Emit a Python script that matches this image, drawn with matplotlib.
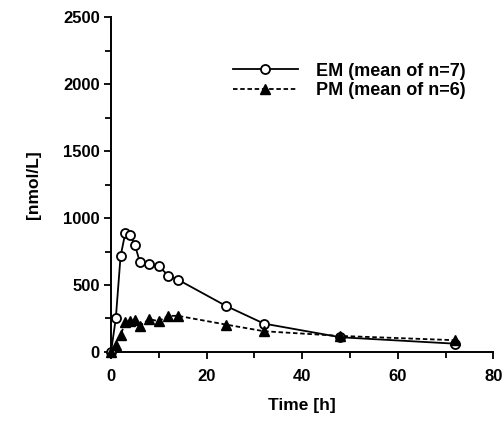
import matplotlib
matplotlib.use('Agg')
import matplotlib.pyplot as plt
import numpy as np

# Dados
t_em = [0, 1, 2, 3, 4, 5, 6, 8, 10, 12, 14, 24, 32, 48, 72]
em = [0, 250, 715, 890, 873, 800, 675, 655, 640, 570, 540, 345, 212, 110, 62]

t_pm = [0, 1, 2, 3, 4, 5, 6, 8, 10, 12, 14, 24, 32, 48, 72]
pm = [0, 55, 125, 225, 235, 240, 195, 245, 230, 270, 270, 205, 155, 120, 88]

em_label = 'EM (mean of n=7)'
pm_label = 'PM (mean of n=6)'

plt.rcParams['font.family'] = ['Liberation Sans', 'DejaVu Sans']
plt.rcParams['font.weight'] = 'bold'

fig = plt.figure(figsize=(5.03, 4.21), dpi=100)
ax = fig.add_axes([0.2207, 0.1639, 0.76, 0.7957])

ax.plot(t_em, em, '-', color='black', lw=1.3, marker='o', ms=6.5,
        mfc='white', mec='black', mew=1.3, label=em_label, clip_on=False, zorder=3)
ax.plot(t_pm, pm, '--', color='black', lw=1.3, marker='^', ms=6.5,
        mfc='black', mec='black', dashes=(2.5, 1.5), label=pm_label, clip_on=False, zorder=3)

ax.set_xlim(0, 80)
ax.set_ylim(0, 2500)
ax.set_xticks(np.arange(0, 81, 20))
ax.set_xticks(np.arange(0, 81, 10), minor=True)
ax.set_yticks(np.arange(0, 2501, 500))
ax.set_yticks(np.arange(0, 2501, 250), minor=True)

for s in ['top', 'right']:
    ax.spines[s].set_visible(False)
for s in ['left', 'bottom']:
    ax.spines[s].set_linewidth(1.4)

ax.tick_params(which='both', direction='out', width=1.3, labelsize=12)
ax.tick_params(which='major', length=5)
ax.tick_params(which='minor', length=4)
ax.tick_params(axis='y', pad=3)
ax.tick_params(axis='x', pad=7)

ax.set_xlabel('Time [h]', fontsize=12.5, fontweight='bold', labelpad=10)
ax.set_ylabel('[nmol/L]', fontsize=12.5, fontweight='bold', labelpad=16)

leg = ax.legend(loc='upper left', bbox_to_anchor=(0.30, 0.885), frameon=False,
                fontsize=13, handlelength=3.6, handletextpad=1.0,
                labelspacing=0.15, numpoints=1, borderaxespad=0)

fig.savefig('out.png', dpi=100)
